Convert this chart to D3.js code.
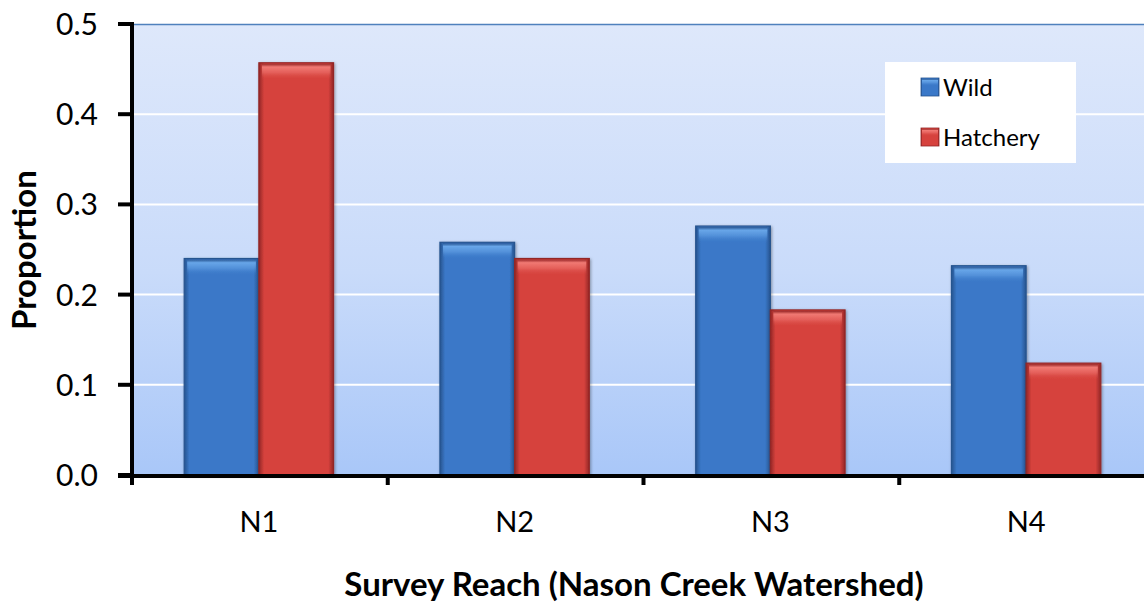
<!DOCTYPE html>
<html>
<head>
<meta charset="utf-8">
<script src="https://cdn.jsdelivr.net/npm/d3@7"></script>
<style>
  html, body { margin: 0; padding: 0; background: #ffffff; }
  svg { display: block; }
  text { font-family: Lato, "Open Sans", sans-serif; fill: #000; }
</style>
</head>
<body>
<svg id="chart" width="1144" height="605"></svg>
<script>
// Proportion of redds by survey reach, Nason Creek watershed
const reaches = ["N1", "N2", "N3", "N4"];
const seriesNames = ["Wild", "Hatchery"];
const wildValues = [0.240, 0.258, 0.276, 0.232];
const hatcheryValues = [0.457, 0.240, 0.183, 0.124];
const yTicks = [0.0, 0.1, 0.2, 0.3, 0.4, 0.5];

const svg = d3.select("#chart");
const W = 1144, H = 605;
const plotLeft = 131, plotRight = 1154, plotTop = 24, plotBottom = 475;

const defs = svg.append("defs");

// plot background gradient
const bg = defs.append("linearGradient").attr("id", "plotBg")
  .attr("x1", 0).attr("y1", 0).attr("x2", 0).attr("y2", 1);
bg.append("stop").attr("offset", "0%").attr("stop-color", "#dee8fb");
bg.append("stop").attr("offset", "55%").attr("stop-color", "#c9dbfa");
bg.append("stop").attr("offset", "100%").attr("stop-color", "#a9c7f8");

// bevelled bar fills
const palettes = {
  Wild: { edge: "#27548f", mid: "#3a78c8", light: "#6aa8ea" },
  Hatchery: { edge: "#932626", mid: "#d6423d", light: "#f27c76" }
};
Object.entries(palettes).forEach(([name, p]) => {
  const g = defs.append("linearGradient").attr("id", "bar-" + name)
    .attr("x1", 0).attr("y1", 0).attr("x2", 1).attr("y2", 0);
  g.append("stop").attr("offset", "0%").attr("stop-color", p.edge);
  g.append("stop").attr("offset", "7%").attr("stop-color", p.mid);
  g.append("stop").attr("offset", "93%").attr("stop-color", p.mid);
  g.append("stop").attr("offset", "100%").attr("stop-color", p.edge);
  const t = defs.append("linearGradient").attr("id", "top-" + name)
    .attr("x1", 0).attr("y1", 0).attr("x2", 0).attr("y2", 1);
  t.append("stop").attr("offset", "0%").attr("stop-color", p.edge).attr("stop-opacity", 0.9);
  t.append("stop").attr("offset", "20%").attr("stop-color", p.light).attr("stop-opacity", 0.95);
  t.append("stop").attr("offset", "55%").attr("stop-color", p.light).attr("stop-opacity", 0.5);
  t.append("stop").attr("offset", "100%").attr("stop-color", p.mid).attr("stop-opacity", 0);
});

const shadow = defs.append("filter").attr("id", "barShadow")
  .attr("x", "-20%").attr("y", "-20%").attr("width", "140%").attr("height", "140%");
shadow.append("feDropShadow").attr("dx", 1).attr("dy", 1).attr("stdDeviation", 1.5)
  .attr("flood-color", "#000").attr("flood-opacity", 0.35);

const x0 = d3.scaleBand().domain(reaches).range([plotLeft, plotRight]).paddingInner(0.416).paddingOuter(0.208);
const x1 = d3.scaleBand().domain(seriesNames).range([0, x0.bandwidth()]);
const y = d3.scaleLinear().domain([0, 0.5]).range([plotBottom, plotTop]);

// plot area
svg.append("rect").attr("x", plotLeft).attr("y", plotTop)
  .attr("width", plotRight - plotLeft).attr("height", plotBottom - plotTop)
  .attr("fill", "url(#plotBg)");
svg.append("line").attr("x1", plotLeft).attr("x2", plotRight).attr("y1", plotTop + 0.5).attr("y2", plotTop + 0.5)
  .attr("stroke", "#4f81bd").attr("stroke-width", 1.5);

// gridlines
svg.append("g").selectAll("line").data(yTicks.filter(v => v > 0 && v < 0.5)).join("line")
  .attr("x1", plotLeft).attr("x2", plotRight)
  .attr("y1", d => y(d)).attr("y2", d => y(d))
  .attr("stroke", "#ffffff").attr("stroke-width", 2);

// bars
const rows = reaches.map((r, i) => ({ reach: r, Wild: wildValues[i], Hatchery: hatcheryValues[i] }));
const groups = svg.append("g").selectAll("g").data(rows).join("g")
  .attr("transform", d => `translate(${x0(d.reach)},0)`);
const bars = groups.selectAll("g").data(d => seriesNames.map(s => ({ s, v: d[s] }))).join("g")
  .attr("filter", "url(#barShadow)");
bars.append("rect")
  .attr("x", d => x1(d.s)).attr("width", x1.bandwidth())
  .attr("y", d => y(d.v)).attr("height", d => y(0) - y(d.v))
  .attr("fill", d => `url(#bar-${d.s})`)
  .attr("stroke", d => palettes[d.s].edge).attr("stroke-width", 1.2);
bars.append("rect")
  .attr("x", d => x1(d.s) + 3).attr("width", x1.bandwidth() - 6)
  .attr("y", d => y(d.v) + 1).attr("height", 16)
  .attr("fill", d => `url(#top-${d.s})`);

// y axis
const yAxis = d3.axisLeft(y).tickValues(yTicks).tickFormat(d3.format(".1f")).tickSize(0).tickPadding(33);
const gy = svg.append("g").attr("transform", `translate(${plotLeft},0)`).call(yAxis);
gy.select(".domain").remove();
gy.selectAll(".tick text").attr("font-size", 30).attr("dy", "0.35em");
svg.append("g").selectAll("line").data(yTicks).join("line")
  .attr("x1", plotLeft - 13).attr("x2", plotLeft)
  .attr("y1", d => y(d)).attr("y2", d => y(d))
  .attr("stroke", "#000").attr("stroke-width", 4);
svg.append("line").attr("x1", plotLeft + 1).attr("x2", plotLeft + 1)
  .attr("y1", plotTop - 2).attr("y2", plotBottom + 10)
  .attr("stroke", "#000").attr("stroke-width", 4);

// x axis
const xEdges = d3.scaleLinear().domain([0, reaches.length]).range([plotLeft, plotRight]);
svg.append("line").attr("x1", plotLeft - 13).attr("x2", W).attr("y1", plotBottom + 1).attr("y2", plotBottom + 1)
  .attr("stroke", "#000").attr("stroke-width", 4);
svg.append("g").selectAll("line").data(d3.range(reaches.length + 1)).join("line")
  .attr("x1", d => xEdges(d) + 1).attr("x2", d => xEdges(d) + 1)
  .attr("y1", plotBottom).attr("y2", plotBottom + 10)
  .attr("stroke", "#000").attr("stroke-width", 4);
svg.append("g").selectAll("text").data(reaches).join("text")
  .attr("x", d => x0(d) + x0.bandwidth() / 2).attr("y", 532)
  .attr("text-anchor", "middle").attr("font-size", 29)
  .text(d => d);

// axis titles
svg.append("text").attr("x", 634).attr("y", 596).attr("text-anchor", "middle")
  .attr("font-size", 33).attr("font-weight", "bold").text("Survey Reach (Nason Creek Watershed)");
svg.append("text").attr("transform", "translate(36,250) rotate(-90)").attr("text-anchor", "middle")
  .attr("font-size", 33).attr("font-weight", "bold").text("Proportion");

// legend
const lg = svg.append("g").attr("transform", "translate(885,62)");
lg.append("rect").attr("width", 191).attr("height", 101).attr("fill", "#ffffff");
seriesNames.forEach((s, i) => {
  const row = lg.append("g").attr("transform", `translate(36,${16 + i * 50})`);
  row.append("rect").attr("width", 18).attr("height", 18)
    .attr("fill", `url(#bar-${s})`).attr("stroke", palettes[s].edge).attr("stroke-width", 0.8);
  row.append("rect").attr("x", 1).attr("y", 1).attr("width", 16).attr("height", 7)
    .attr("fill", `url(#top-${s})`);
  row.append("text").attr("x", 22).attr("y", 9).attr("dy", "0.36em")
    .attr("font-size", 24).text(s);
});
</script>
</body>
</html>
